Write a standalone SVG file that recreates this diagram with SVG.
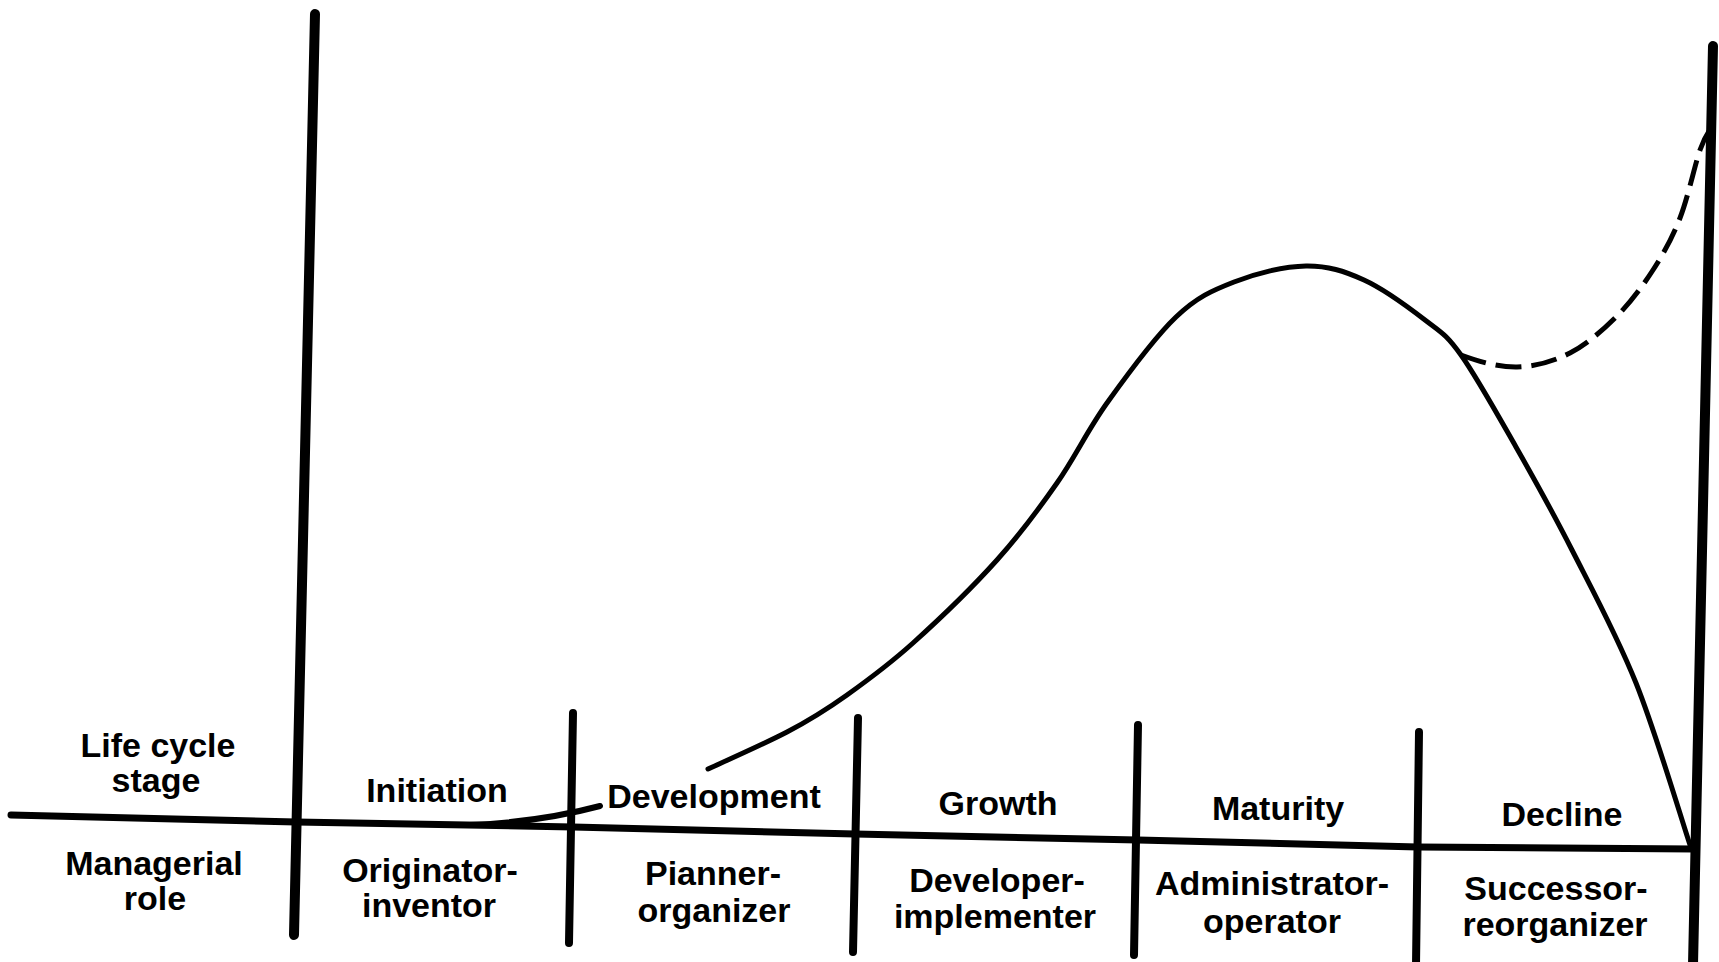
<svg xmlns="http://www.w3.org/2000/svg" width="1719" height="962" viewBox="0 0 1719 962">
<style>
.bg{fill:#ffffff}
.ln{fill:none;stroke:#000;stroke-linecap:round;stroke-linejoin:round}
.big{stroke-width:10}
.tick{stroke-width:8}
.base{stroke-width:7}
.curve{stroke-width:5}
.dash{stroke-width:5;stroke-dasharray:26 10;stroke-linecap:butt}
text{font-family:"Liberation Sans",Arial,Helvetica,sans-serif;font-weight:bold;font-size:34px;fill:#000;text-anchor:middle}
</style>
<rect class="bg" x="0" y="0" width="1719" height="962"/>
<g id="connectors">
  <line class="ln big" x1="315" y1="14" x2="294" y2="935"/>
  <line class="ln big" x1="1713" y1="46" x2="1693" y2="965"/>
  <polyline class="ln base" points="11,815 296,822 573,827 855,834 1138,840 1418,847 1694,849"/>
  <line class="ln tick" x1="573" y1="713" x2="569" y2="943"/>
  <line class="ln tick" x1="858" y1="718" x2="853" y2="952"/>
  <line class="ln tick" x1="1138" y1="725" x2="1134" y2="955"/>
  <line class="ln tick" x1="1419" y1="732" x2="1416" y2="965"/>
  <path class="ln" stroke-width="6" d="M470,825 Q540,822 600,806"/>
  <path class="ln curve" d="M708,769 C721,763 764,744 787,732 C810,720 826,710 847,695 C868,680 888,665.5 913,643 C938,620.5 973,586.7 997,560 C1021,533.3 1038.7,509.2 1057,483 C1075.3,456.8 1087.2,430.7 1107,403 C1126.8,375.3 1154.8,337.2 1176,317 C1197.2,296.8 1212.3,290.5 1234,282 C1255.7,273.5 1284.3,266.3 1306,266 C1327.7,265.7 1344.2,271 1364,280 C1383.8,289 1408.8,307.5 1425,320 C1441.2,332.5 1445.8,333.8 1461,355 C1476.2,376.2 1497.5,414.5 1516,447 C1534.5,479.5 1552,510.7 1572,550 C1592,589.3 1616.3,633.8 1636,683 C1655.7,732.2 1681,818 1690,845"/>
  <path class="ln dash" d="M1461,355 C1480,362 1498.8,367.3 1517,367 C1535.2,366.7 1553.3,361.5 1570,353 C1586.7,344.5 1603.2,329.8 1617,316 C1630.8,302.2 1642.5,286.3 1653,270 C1663.5,253.7 1672.2,238 1680,218 C1687.8,198 1694.7,165.3 1700,150 C1705.3,134.7 1710,130 1712,126"/>
</g>
<g id="header-stage"><text x="158" y="757">Life cycle</text><text x="156" y="792">stage</text></g>
<g id="header-role"><text x="154" y="875">Managerial</text><text x="155" y="910">role</text></g>
<g id="stage-initiation"><text x="437" y="802">Initiation</text></g>
<g id="stage-development"><text x="714" y="808">Development</text></g>
<g id="stage-growth"><text x="998" y="815">Growth</text></g>
<g id="stage-maturity"><text x="1278" y="820">Maturity</text></g>
<g id="stage-decline"><text x="1562" y="826">Decline</text></g>
<g id="role-originator"><text x="430" y="882">Originator-</text><text x="429" y="917">inventor</text></g>
<g id="role-planner"><text x="713" y="885">Pianner-</text><text x="714" y="922">organizer</text></g>
<g id="role-developer"><text x="997" y="892">Developer-</text><text x="995" y="928">implementer</text></g>
<g id="role-administrator"><text x="1272" y="895">Administrator-</text><text x="1272" y="933">operator</text></g>
<g id="role-successor"><text x="1556" y="900">Successor-</text><text x="1555" y="936">reorganizer</text></g>
</svg>
